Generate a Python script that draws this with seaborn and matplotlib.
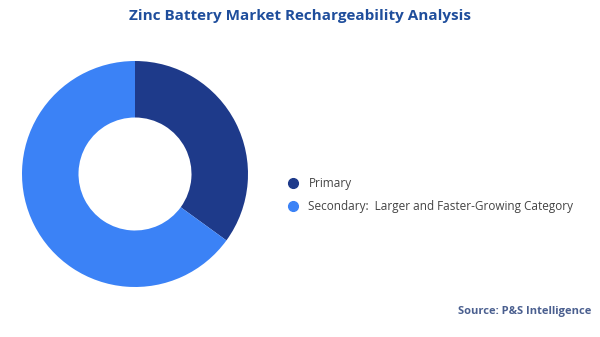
import matplotlib
matplotlib.use("Agg")
import matplotlib.pyplot as plt
from matplotlib.lines import Line2D
import seaborn as sns

# data
categories = ["Primary", "Secondary:  Larger and Faster-Growing Category"]
shares = [35, 65]
colors = ["#1e3a8a", "#3b82f6"]

sns.set_theme(style="white")
plt.rcParams["font.family"] = ["Open Sans", "DejaVu Sans"]

fig = plt.figure(figsize=(6, 3.37), dpi=100)

# pie axes placed so the ring sits left of centre
ax = fig.add_axes([22 / 600, 50 / 337, 226 / 600, 226 / 337])
wedges, _ = ax.pie(shares, colors=colors, startangle=90, counterclock=False,
                   wedgeprops=dict(width=0.5, edgecolor="none"), radius=1.0)
ax.set_aspect("equal")
ax.set_xlim(-1, 1)
ax.set_ylim(-1, 1)
ax.axis("off")

fig.text(0.5, 0.952, "Zinc Battery Market Rechargeability Analysis",
         ha="center", va="center", fontsize=11, fontweight="bold", color="#1f4e9c")

handles = [Line2D([0], [0], marker="o", linestyle="none", markersize=7,
                  markerfacecolor=c, markeredgecolor=c) for c in colors]
fig.legend(handles, categories, loc="center left", bbox_to_anchor=(0.46, 0.42),
           frameon=False, fontsize=8.5, labelcolor="#444444", handletextpad=0.35,
           labelspacing=0.85, borderaxespad=0)

fig.text(0.985, 0.075, "Source: P&S Intelligence", ha="right", va="center",
         fontsize=8, fontweight="bold", color="#4a5f8f")

fig.savefig("out.png", dpi=100)
